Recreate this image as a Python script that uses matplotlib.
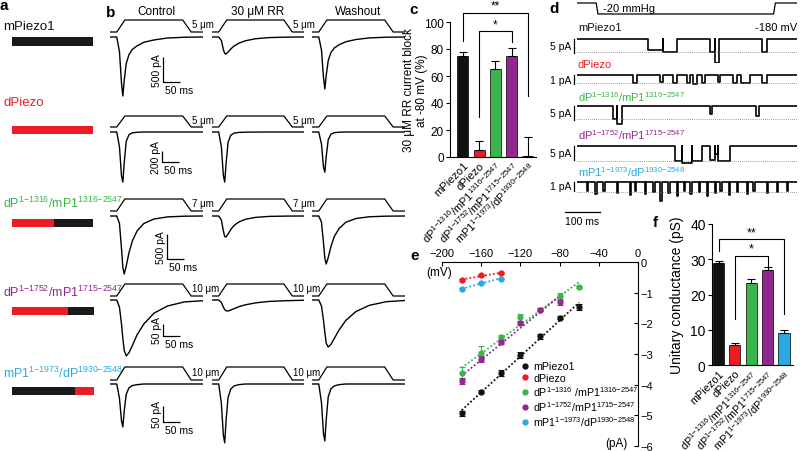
import numpy as np
import matplotlib
matplotlib.use('Agg')
import matplotlib.pyplot as plt

plt.rcParams['font.family'] = ['Liberation Sans', 'DejaVu Sans']
plt.rcParams['mathtext.fontset'] = 'custom'
plt.rcParams['mathtext.rm'] = 'Liberation Sans'
plt.rcParams['mathtext.it'] = 'Liberation Sans:italic'
plt.rcParams['mathtext.bf'] = 'Liberation Sans:bold'
plt.rcParams['axes.linewidth'] = 0.8

# ---------------- colours ----------------
BLACK, RED, GREEN, PURPLE, BLUE = '#111111', '#ec1c24', '#39b54a', '#92278f', '#29abe2'
colors = [BLACK, RED, GREEN, PURPLE, BLUE]


def chim(a, sa, b, sb, sep='/'):
    sa = sa.replace('-', '{-}')
    sb = sb.replace('-', '{-}')
    return a + r'$^{\mathregular{' + sa + '}}$' + sep + b + r'$^{\mathregular{' + sb + '}}$'


construct_names = ['mPiezo1', 'dPiezo',
                   chim('dP', '1-1316', 'mP1', '1316-2547'),
                   chim('dP', '1-1752', 'mP1', '1715-2547'),
                   chim('mP1', '1-1973', 'dP', '1930-2548')]
legend_names = ['mPiezo1', 'dPiezo',
                chim('dP', '1-1316', 'mP1', '1316-2547', sep=' /'),
                chim('dP', '1-1752', 'mP1', '1715-2547', sep='/'),
                chim('mP1', '1-1973', 'dP', '1930-2548', sep='/')]

# ---------------- panel a: construct segments (residue ranges) ----------------
seg_mpiezo1 = [(1, 2547, 'm')]
seg_dpiezo = [(1, 2548, 'd')]
seg_ch1 = [(1, 1316, 'd'), (1316, 2547, 'm')]
seg_ch2 = [(1, 1752, 'd'), (1715, 2547, 'm')]
seg_ch3 = [(1, 1973, 'm'), (1930, 2548, 'd')]
segments = [seg_mpiezo1, seg_dpiezo, seg_ch1, seg_ch2, seg_ch3]

# ---------------- panel b: macroscopic currents (ms, pA) ----------------
t_b = [0, 20, 28, 34, 38, 42, 48, 56, 66, 80, 100, 130, 170, 220, 275]
stim_t = [0, 20, 44, 215, 240, 275]
stim_level = [0, 0, 1, 1, 0, 0]
b_headers = ['Control', '30 \u03bcM RR', 'Washout']
b_stim_labels = ['5 \u03bcm', '5 \u03bcm', '7 \u03bcm', '10 \u03bcm', '10 \u03bcm']
b_scale_pA = [500, 200, 500, 50, 50]
b_scale_ms = 50

mp1_ctrl = [0, 0, -295, -920, -1180, -873, -531, -354, -248, -177, -106, -59, -20, -5, 0]
mp1_rr = [0, 0, -70, -250, -330, -340, -300, -240, -180, -125, -75, -35, -12, -3, 0]
mp1_wash = [0, 0, -260, -810, -1040, -770, -470, -310, -220, -155, -95, -50, -18, -4, 0]
dp_ctrl = [0, 0, -270, -800, -910, -560, -170, -50, -15, -5, 0, 0, 0, 0, 0]
dp_rr = [0, 0, -270, -790, -910, -580, -190, -60, -20, -8, -3, -1, 0, 0, 0]
dp_wash = [0, 0, -220, -640, -730, -450, -140, -40, -12, -4, 0, 0, 0, 0, 0]
c1_ctrl = [0, 0, -150, -650, -1030, -1160, -1000, -740, -500, -300, -150, -60, -18, -4, 0]
c1_rr = [0, 0, -80, -300, -410, -420, -360, -270, -190, -120, -65, -28, -8, -2, 0]
c1_wash = [0, 0, -120, -540, -850, -960, -830, -610, -410, -250, -125, -50, -15, -3, 0]
c2_ctrl = [0, 0, -30, -100, -160, -210, -233, -220, -190, -145, -100, -55, -25, -8, -3]
c2_rr = [0, 0, -10, -30, -40, -45, -46, -42, -36, -28, -20, -12, -6, -3, -1]
c2_wash = [0, 0, -25, -85, -135, -180, -196, -185, -160, -125, -85, -48, -22, -7, -2]
c3_ctrl = [0, 0, -45, -115, -134, -85, -32, -12, -5, -2, 0, 0, 0, 0, 0]
c3_rr = [0, 0, -60, -160, -184, -115, -42, -16, -6, -2, 0, 0, 0, 0, 0]
c3_wash = [0, 0, -58, -155, -178, -112, -40, -15, -6, -2, 0, 0, 0, 0, 0]
b_traces = [[mp1_ctrl, mp1_rr, mp1_wash], [dp_ctrl, dp_rr, dp_wash], [c1_ctrl, c1_rr, c1_wash],
            [c2_ctrl, c2_rr, c2_wash], [c3_ctrl, c3_rr, c3_wash]]

# ---------------- panel c: RR block ----------------
c_block = [75, 5, 65, 75, 1]
c_block_err = [3, 7, 6, 6, 14]

# ---------------- panel d: single channel events (start ms, end ms, pA) ----------------
d_stim_t = [0, 55, 60, 563, 568, 630]
d_stim_p = [0, 0, -20, -20, 0, 0]
d_scale_pA = [5, 1, 5, 5, 1]
d_open_level = [-4.7, -0.9, -4.6, -5.3, -1.1]
d_ev_mp1 = [(203, 245, -4.0), (245, 286, -4.7), (380, 395, -4.7), (395, 408, -8.5), (531, 543, -4.5)]
d_ev_dp = [(160, 171, -0.9), (237, 246, -0.8), (274, 286, -0.9), (314, 323, -0.9), (331, 343, -1.0),
           (357, 366, -0.9), (403, 409, -0.8), (446, 457, -0.9), (471, 494, -0.9), (531, 543, -0.9)]
d_ev_c1 = [(103, 115, -4.6), (115, 128, -6.5), (380, 386, -3.0), (514, 520, -3.5)]
d_ev_c2 = [(280, 300, -5.3), (300, 330, -6.0), (330, 357, -5.3), (380, 395, -5.0), (395, 405, -3.0), (405, 437, -5.3)]
d_ev_c3 = [(28, 32, -1.0), (52, 56, -1.3), (75, 79, -1.0), (114, 118, -1.2), (152, 156, -1.4),
           (166, 170, -1.0), (195, 199, -1.3), (219, 223, -1.1), (238, 242, -2.1), (262, 266, -1.2),
           (286, 290, -1.5), (305, 309, -1.0), (324, 328, -1.3), (348, 352, -1.1), (372, 376, -1.6),
           (395, 399, -1.2), (410, 414, -1.0), (434, 438, -1.4), (458, 462, -1.1), (486, 490, -1.3),
           (505, 509, -1.0), (544, 548, -1.2), (572, 576, -1.1), (601, 605, -1.0)]
d_events = [d_ev_mp1, d_ev_dp, d_ev_c1, d_ev_c2, d_ev_c3]

# ---------------- panel e: I-V ----------------
e_v_mp1 = [-180, -160, -140, -120, -100, -80, -60]
e_i_mp1 = [-4.93, -4.23, -3.63, -3.04, -2.42, -1.82, -1.47]
e_err_mp1 = [0.08, 0.05, 0.1, 0.1, 0.08, 0.05, 0.1]
e_v_dp = [-180, -160, -140]
e_i_dp = [-0.58, -0.44, -0.36]
e_err_dp = [0.03, 0.03, 0.03]
e_v_c1 = [-180, -160, -140, -120, -100, -80, -60]
e_i_c1 = [-3.63, -2.98, -2.45, -1.8, -1.55, -1.12, -0.82]
e_err_c1 = [0.2, 0.24, 0.06, 0.12, 0.05, 0.1, 0.04]
e_v_c2 = [-180, -160, -140, -120, -100, -80]
e_i_c2 = [-3.87, -3.15, -2.6, -1.99, -1.56, -1.31]
e_err_c2 = [0.1, 0.1, 0.06, 0.08, 0.05, 0.08]
e_v_c3 = [-180, -160, -140]
e_i_c3 = [-0.88, -0.68, -0.54]
e_err_c3 = [0.03, 0.03, 0.03]
e_sets = [(e_v_mp1, e_i_mp1, e_err_mp1), (e_v_dp, e_i_dp, e_err_dp), (e_v_c1, e_i_c1, e_err_c1),
          (e_v_c2, e_i_c2, e_err_c2), (e_v_c3, e_i_c3, e_err_c3)]

# ---------------- panel f: conductance ----------------
f_cond = [29.0, 5.7, 23.4, 27.0, 9.1]
f_cond_err = [0.4, 0.6, 1.0, 0.9, 0.8]

# =====================================================================
W, H = 800, 452
fig = plt.figure(figsize=(8, 4.52), dpi=100)


def axpx(l, t, r, b):
    ax = fig.add_axes([l / W, 1 - b / H, (r - l) / W, (b - t) / H])
    return ax


def ftxt(x, y, s, **kw):
    fig.text(x / W, 1 - y / H, s, **kw)


def blank(ax):
    ax.set_axis_off()
    ax.patch.set_alpha(0)


# panel letters
for lt, (x, y) in zip('abcdef', [(0, 6), (106, 13), (409, 10), (549, 9), (410, 256), (653, 223)]):
    ftxt(x, y, lt, fontsize=11, fontweight='bold', va='center', ha='left')

# ---------------- panel a ----------------
a_text_y = [27, 103, 203, 292, 373]
a_bar_y = [(38, 47), (127, 135), (220, 228), (308, 316), (388, 396)]
for i in range(5):
    ftxt(3, a_text_y[i], construct_names[i], fontsize=9.5 if i < 2 else 9, color=colors[i],
         va='center', ha='left')
    ax = axpx(12, a_bar_y[i][0], 93, a_bar_y[i][1])
    blank(ax)
    ax.set_xlim(0, 2547)
    ax.set_ylim(0, 1)
    left = 0
    for (s, e, org) in segments[i]:
        ln = e - s + 1 if s == 1 else e - s
        ax.barh(0.5, ln, left=left, height=1.0, color=RED if org == 'd' else '#1a1a1a',
                edgecolor='none', clip_on=False)
        left += ln

# ---------------- panel b ----------------
col_x = [(110, 203), (212, 304), (312, 405)]
px_per_ms = 93 / 275.0
row_stim = [(21, 33), (117, 128), (200, 212), (285, 297), (368, 381)]
row_base = [38, 133, 217, 301, 385]
row_pxpa = [25 / 500, 11 / 200, 25 / 500, 12 / 50, 16 / 50]
sb_corner = [(163, 83), (162, 163), (167, 260), (163, 337), (163, 423)]

for c, hdr in enumerate(b_headers):
    ftxt((col_x[c][0] + col_x[c][1]) / 2, 12, hdr, fontsize=8.5, ha='center', va='center')

for r in range(5):
    for c in range(3):
        l, rr_ = col_x[c]
        # stimulus
        st, sbase = row_stim[r]
        axs = axpx(l, st - 2, rr_, sbase + 2)
        blank(axs)
        axs.set_xlim(0, 275)
        pad = 2 / (sbase - st)
        axs.set_ylim(-pad, 1 + pad)
        axs.plot(stim_t, stim_level, color='k', lw=0.9, solid_joinstyle='round')
        if c < 2:
            axs.text(0.885, 0.6, b_stim_labels[r], transform=axs.transAxes, fontsize=7,
                     ha='left', va='center')
        # current
        base = row_base[r]
        k = row_pxpa[r]
        axc = axpx(l, base - 4, rr_, base + 66)
        blank(axc)
        axc.set_xlim(0, 275)
        axc.set_ylim(-66 / k, 4 / k)
        axc.plot(t_b, b_traces[r][c], color='k', lw=1.0)
        if c == 0:
            cx, cy = sb_corner[r]
            t0 = (cx - l) / px_per_ms
            i0 = -(cy - base) / k
            v = b_scale_pA[r]
            axc.plot([t0, t0, t0 + b_scale_ms], [i0 + v, i0, i0], color='k', lw=0.9,
                     clip_on=False, solid_capstyle='butt')
            axc.text(t0 - 6 / px_per_ms, i0 + v / 2, f'{v} pA', rotation=90, fontsize=7.5,
                     ha='center', va='center', clip_on=False)
            axc.text(t0 + 2 / px_per_ms, i0 - 3 / k, f'{b_scale_ms} ms', fontsize=7.5,
                     ha='left', va='top', clip_on=False)

# ---------------- panel c ----------------
axc_ = axpx(450, 23, 536, 158)
xs = np.arange(5)
axc_.bar(xs, c_block, width=0.68, color=colors, edgecolor='k', linewidth=0.5)
axc_.errorbar(xs, c_block, yerr=[np.zeros(5), c_block_err], fmt='none', ecolor='k',
              elinewidth=0.8, capsize=3, capthick=0.8)
axc_.set_xlim(-0.8, 4.5)
axc_.set_ylim(0, 100)
axc_.set_yticks([0, 20, 40, 60, 80, 100])
axc_.tick_params(axis='y', labelsize=8.5, length=3, width=0.8, pad=1.5)
axc_.set_xticks(xs)
axc_.set_xticklabels(construct_names, rotation=45, ha='right', rotation_mode='anchor', fontsize=8)
axc_.tick_params(axis='x', length=0, pad=2)
for s in ['top', 'right']:
    axc_.spines[s].set_visible(False)
axc_.set_ylabel('30 \u03bcM RR current block\nat -80 mV (%)', fontsize=8.5, linespacing=1.1)
axc_.yaxis.set_label_coords(-0.26, 0.5)
axc_.plot([0, 0, 4, 4], [86, 107, 107, 45], color='k', lw=0.8, clip_on=False)
axc_.text(2, 107.5, '**', ha='center', va='bottom', fontsize=8.5)
axc_.plot([1, 1, 3, 3], [30, 93, 93, 85], color='k', lw=0.8, clip_on=False)
axc_.text(2, 93.5, '*', ha='center', va='bottom', fontsize=8.5)

# ---------------- panel d ----------------
d_x0, d_x1 = 577, 797
d_pxms = (d_x1 - d_x0) / 630.0
axd_s = axpx(d_x0, 2, d_x1, 17)
blank(axd_s)
axd_s.set_xlim(0, 630)
axd_s.set_ylim(-20 - 20 * 2 / 11, 20 * 2 / 11)
axd_s.plot(d_stim_t, d_stim_p, color='k', lw=0.9)
ftxt(603, 9, '-20 mmHg', fontsize=8, va='center', ha='left')
ftxt(797, 28, '-180 mV', fontsize=8, va='center', ha='right')

d_label_y = [28, 65, 97, 135, 172]
d_base = [40, 76, 107, 147, 183]
d_pxpa = [2.8, 9.0, 2.8, 2.8, 9.0]
for i in range(5):
    ftxt(578, d_label_y[i], construct_names[i], fontsize=8, color=colors[i], va='center', ha='left')
    k = d_pxpa[i]
    b0 = d_base[i]
    ax = axpx(d_x0, b0 - 8, d_x1, b0 + 24)
    blank(ax)
    ax.set_xlim(0, 630)
    ax.set_ylim(-24 / k, 8 / k)
    tt = [0]
    ii = [0]
    for (s, e, lev) in d_events[i]:
        tt += [s, s, e, e]
        ii += [0, lev, lev, 0]
    tt.append(630)
    ii.append(0)
    ax.plot(tt, ii, color='k', lw=1.2)
    ax.axhline(d_open_level[i], color='#777777', lw=0.6, ls=(0, (1, 1.5)))
    v = d_scale_pA[i]
    ax.plot([-3 / d_pxms, -3 / d_pxms], [0, -v], color='k', lw=0.9, clip_on=False)
    ax.text(-6 / d_pxms, -v / 2, f'{v} pA', fontsize=7.5, ha='right', va='center', clip_on=False)
    if i == 4:
        ax.plot([-12 / d_pxms, 23 / d_pxms], [-30 / k, -30 / k], color='k', lw=0.9, clip_on=False)
        ax.text(5.5 / d_pxms, -34 / k, '100 ms', fontsize=7.5, ha='center', va='top', clip_on=False)

# ---------------- panel e ----------------
axe = axpx(442, 263, 638, 447)
axe.set_xlim(-200, 0)
axe.set_ylim(-6, 0)
for s in ['left', 'bottom']:
    axe.spines[s].set_visible(False)
axe.xaxis.set_ticks_position('top')
axe.yaxis.set_ticks_position('right')
axe.set_xticks([-200, -160, -120, -80, -40, 0])
axe.set_yticks([0, -1, -2, -3, -4, -5, -6])
axe.tick_params(axis='both', direction='in', labelsize=8, length=3, width=0.8, pad=2)
axe.tick_params(axis='x', pad=3)
handles = []
for i, (v, cur, er) in enumerate(e_sets):
    p = np.polyfit(v, cur, 1)
    vv = np.array([min(v), max(v)])
    axe.plot(vv, np.polyval(p, vv), ls=(0, (1, 1.2)), color=colors[i], lw=1.3)
    axe.errorbar(v, cur, yerr=er, fmt='o', ms=3.5, color=colors[i], ecolor=colors[i],
                 elinewidth=0.8, capsize=2, capthick=0.8)
    h, = axe.plot([], [], 'o', ms=3.5, color=colors[i], label=legend_names[i])
    handles.append(h)
axe.legend(handles=handles, loc='upper left', bbox_to_anchor=(0.405, 0.46), frameon=False,
           fontsize=7.7, handlelength=0.6, handletextpad=0.5, labelspacing=0.12, borderaxespad=0,
           borderpad=0)
ftxt(439, 273, '(mV)', fontsize=8.5, ha='center', va='center')
ftxt(628, 444, '(pA)', fontsize=8.5, ha='right', va='center')

# ---------------- panel f ----------------
axf = axpx(712, 225, 793, 366)
axf.bar(xs, f_cond, width=0.68, color=colors, edgecolor='k', linewidth=0.5)
axf.errorbar(xs, f_cond, yerr=[np.zeros(5), f_cond_err], fmt='none', ecolor='k',
             elinewidth=0.8, capsize=3, capthick=0.8)
axf.set_xlim(-0.4, 4.55)
axf.set_ylim(0, 40)
axf.set_yticks([0, 10, 20, 30, 40])
axf.tick_params(axis='y', labelsize=10, length=3, width=0.8, pad=1.5)
axf.set_xticks(xs)
axf.set_xticklabels(construct_names, rotation=45, ha='right', rotation_mode='anchor', fontsize=7.8)
axf.tick_params(axis='x', length=0, pad=2)
for s in ['top', 'right']:
    axf.spines[s].set_visible(False)
axf.set_ylabel('Unitary conductance (pS)', fontsize=10)
axf.yaxis.set_label_coords(-0.35, 0.5)
axf.plot([0, 0, 4, 4], [32.4, 35.7, 35.7, 14.4], color='k', lw=0.8, clip_on=False)
axf.text(2, 36.0, '**', ha='center', va='bottom', fontsize=9)
axf.plot([1, 1, 3, 3], [13, 31, 31, 28.2], color='k', lw=0.8, clip_on=False)
axf.text(2, 31.3, '*', ha='center', va='bottom', fontsize=9)

fig.savefig('out.png', dpi=100)
